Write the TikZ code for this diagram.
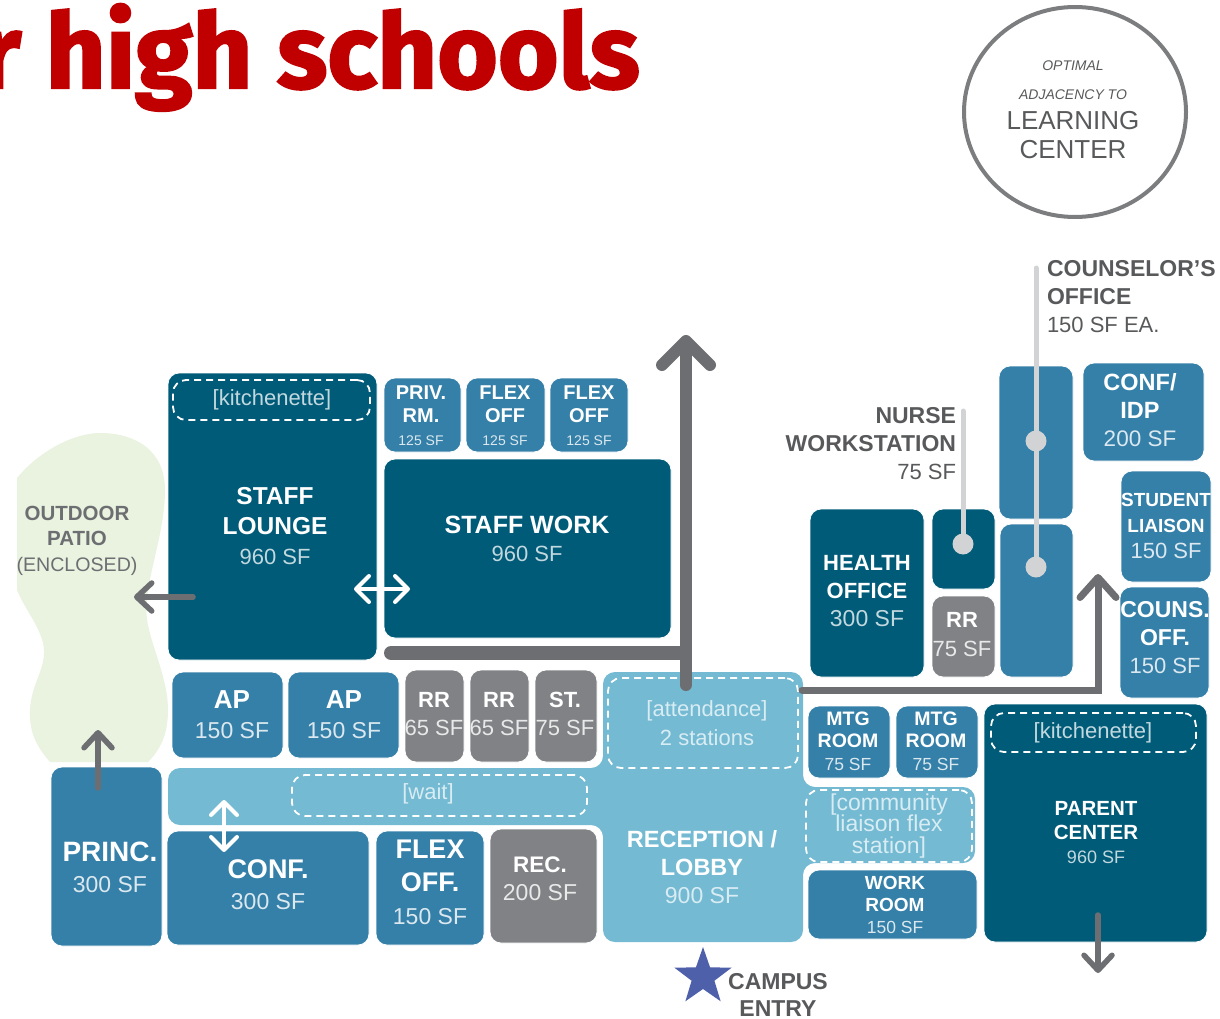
\documentclass[tikz,border=0pt]{standalone}
\usepackage{fontspec}
\setmainfont{Liberation Sans}
\newfontfamily\titlefont[BoldFeatures={FakeBold=2}]{Fira Sans}
\usetikzlibrary{arrows.meta,shapes.geometric}
\definecolor{bgdark}{HTML}{005B78}
\definecolor{bgmid}{HTML}{3580A8}
\definecolor{bglight}{HTML}{74BAD2}
\definecolor{bggray}{HTML}{808285}
\definecolor{arrowgray}{HTML}{6D6E71}
\definecolor{callout}{HTML}{D1D3D4}
\definecolor{patio}{HTML}{E9F3E0}
\definecolor{titlered}{HTML}{C00000}
\definecolor{darktext}{HTML}{58595B}
\definecolor{starblue}{HTML}{4F60AB}
\colorlet{tsub}{white}
\tikzset{
  roombox/.style={draw=white,line width=0.8pt,rounded corners=11pt,inner sep=0pt,outer sep=0pt},
  dark/.style={fill=bgdark},
  mid/.style={fill=bgmid},
  grayroom/.style={fill=bggray},
  dashbox/.style={draw=white,line width=1.8pt,rounded corners=13pt,dash pattern=on 7pt off 5pt,inner sep=0pt,outer sep=0pt},
  lab/.style={align=center,inner sep=0pt,outer sep=0pt},
  ondark/.style={text=white,execute at begin node=\colorlet{tsub}{white!76!bgdark}},
  onmid/.style={text=white,execute at begin node=\colorlet{tsub}{white!82!bgmid}},
  ongray/.style={text=white,execute at begin node=\colorlet{tsub}{white!82!bggray}},
  onlight/.style={text=white,execute at begin node=\colorlet{tsub}{white!72!bglight}},
  outside/.style={text=darktext,execute at begin node=\colorlet{tsub}{darktext}},
  mainarrow/.style={draw=arrowgray,line cap=round,line join=miter},
  whitearrow/.style={draw=white,line width=4pt,line cap=round,{Straight Barb[round,length=13pt,width=26pt]}-{Straight Barb[round,length=13pt,width=26pt]}},
  grayarrow/.style={draw=arrowgray,line width=5.5pt,line cap=round,-{Straight Barb[round,length=15pt,width=28pt]}},
  calloutline/.style={draw=callout,line width=5pt,line cap=round},
  calloutdot/.style={circle,fill=callout,minimum size=21pt,inner sep=0pt,outer sep=0pt},
}
% name, x1, y1, x2, y2, style
\newcommand\room[6]{\node[roombox,#6,minimum width={#4-#2},minimum height={#5-#3}] (#1) at ({(#2+#4)/2},{(#3+#5)/2}) {};}
\newcommand\dashroom[5]{\node[dashbox,minimum width={#4-#2},minimum height={#5-#3}] (#1) at ({(#2+#4)/2},{(#3+#5)/2}) {};}
% name, x, y, style, bold size, leading, text
\newcommand\lbl[7]{\node[lab,#4,font=\fontsize{#5}{#6}\selectfont\bfseries] (#1) at (#2,#3) {#7};}
\newcommand\subt[2]{{\color{tsub}\mdseries\fontsize{#1}{#1}\selectfont #2}}
\begin{document}
\begin{tikzpicture}[x=1pt,y=-1pt]
\useasboundingbox (0,0) rectangle (1220,1019);
\begin{scope}
\clip (0,0) rectangle (1220,1019);
\node[inner sep=0pt,anchor=base east,text=titlered,font=\titlefont\bfseries\fontsize{104}{104}\selectfont] (title) at (640,88) {r high schools};
\end{scope}

% circle
\node[draw=arrowgray!90,line width=4pt,ellipse,minimum width=222pt,minimum height=210pt,inner sep=0pt] (badge) at (1075,112) {};
\node[lab,text=darktext,font=\itshape\fontsize{14}{14}\selectfont] (opt1) at (1073,66) {OPTIMAL};
\node[lab,text=darktext,font=\itshape\fontsize{14}{14}\selectfont] (opt2) at (1073,95) {ADJACENCY TO};
\node[lab,text=darktext,font=\fontsize{26}{29}\selectfont] (opt3) at (1073,135) {LEARNING\\CENTER};

% patio
\fill[patio] (17,478) .. controls (40,450) and (75,433) .. (100,433) .. controls (135,433) and (165,450) .. (165,490) .. controls (165,540) and (140,590) .. (148,625) .. controls (153,650) and (168,680) .. (168,710) .. controls (168,735) and (160,750) .. (148,762) -- (50,762) .. controls (35,745) and (29,730) .. (30,710) .. controls (31,685) and (45,670) .. (44,650) .. controls (43,630) and (25,610) .. (17,590) -- cycle;

% lobby and corridor
\fill[bglight,rounded corners=12pt] (168,768) -- (603,768) -- (603,672) -- (803,672) -- (803,787) -- (975,787) -- (975,863) -- (803,863) -- (803,942) -- (603,942) -- (603,825) -- (168,825) -- cycle;

% rooms
\room{lounge}{168}{373}{377}{660}{dark}
\room{priv}{384}{378}{461}{452}{mid}
\room{flexa}{466}{378}{545}{452}{mid}
\room{flexb}{550}{378}{628}{452}{mid}
\room{staffwork}{384}{459}{671}{638}{dark}
\room{apa}{172}{672}{283}{758}{mid}
\room{apb}{288}{672}{399}{758}{mid}
\room{rra}{405}{670}{464}{762}{grayroom}
\room{rrb}{470}{670}{529}{762}{grayroom}
\room{storage}{535}{670}{597}{762}{grayroom}
\room{princ}{51}{767}{162}{946}{mid}
\room{conf}{167}{831}{369}{945}{mid}
\room{flexoff}{376}{831}{484}{945}{mid}
\room{rec}{490}{829}{597}{943}{grayroom}
\room{mtga}{808}{706}{890}{778}{mid}
\room{mtgb}{896}{706}{978}{778}{mid}
\room{workroom}{808}{870}{977}{939}{mid}
\room{parent}{984}{704}{1207}{942}{dark}
\room{health}{810}{509}{924}{677}{dark}
\room{nurse}{932}{509}{995}{589}{dark}
\room{rrc}{932}{596}{995}{677}{grayroom}
\room{counsa}{999}{366}{1073}{519}{mid}
\room{counsb}{1000}{524}{1073}{677}{mid}
\room{confidp}{1083}{363}{1204}{461}{mid}
\room{student}{1121}{471}{1211}{582}{mid}
\room{counsoff}{1120}{587}{1209}{698}{mid}

% dashed zones
\dashroom{kita}{173}{380}{370}{420}
\dashroom{attend}{608}{678}{798}{768}
\dashroom{waitzone}{292}{775}{587}{816}
\dashroom{commzone}{806}{790}{972}{862}
\dashroom{kitb}{991}{713}{1196}{752}

% coordinates for connectors
\coordinate (barstart) at (391,653);
\coordinate (barjoin) at (680,653);
\coordinate (mainfoot) at (686,685);
\coordinate (maintip) at (686,335);
\coordinate (rightstart) at (802,690);
\coordinate (rightcorner) at (1098,690);
\coordinate (righttip) at (1098,574);
\coordinate (patiotail) at (193,597);
\coordinate (patiotip) at (134,597);
\coordinate (princtail) at (98,788);
\coordinate (princtip) at (98,730);
\coordinate (parenttail) at (1098,915);
\coordinate (parenttip) at (1098,973);
\coordinate (hleft) at (354,589);
\coordinate (hright) at (410,589);
\coordinate (vtop) at (224,800);
\coordinate (vbot) at (224,852);
\coordinate (nursetop) at (963,411);
\coordinate (counstop) at (1036,268);

% gray circulation arrows
\draw[mainarrow,line width=14pt] (barstart) -- (barjoin);
\draw[mainarrow,line width=12pt,-{Straight Barb[round,length=24pt,width=48pt]}] (mainfoot) -- (maintip);
\draw[mainarrow,line width=7pt,-{Straight Barb[round,length=20pt,width=36pt]}] (rightstart) -- (rightcorner) -- (righttip);
\draw[grayarrow] (patiotail) -- (patiotip);
\draw[grayarrow] (princtail) -- (princtip);
\draw[grayarrow] (parenttail) -- (parenttip);
\draw[whitearrow] (hleft) -- (hright);
\draw[whitearrow] (vtop) -- (vbot);

% callouts
\node[calloutdot] (nursedot) at (963,544) {};
\node[calloutdot] (counsdota) at (1036,441) {};
\node[calloutdot] (counsdotb) at (1036,567) {};
\draw[calloutline] (nursetop) -- (nursedot);
\draw[calloutline] (counstop) -- (counsdota) -- (counsdotb);

% star
\node[star,star points=5,star point ratio=2.5,fill=starblue,minimum size=60pt,inner sep=0pt] (star) at (703,977) {};

% labels
\lbl{tkita}{272}{400}{ondark}{22}{26}{\subt{22}{[kitchenette]}}
\lbl{tlounge}{275}{526}{ondark}{24.5}{30}{STAFF\\LOUNGE\\\subt{22}{960 SF}}
\lbl{tpriv}{421}{416}{onmid}{20}{23}{PRIV.\\RM.\\\subt{14}{125 SF}}
\lbl{tflexa}{505}{416}{onmid}{20}{23}{FLEX\\OFF\\\subt{14}{125 SF}}
\lbl{tflexb}{589}{416}{onmid}{20}{23}{FLEX\\OFF\\\subt{14}{125 SF}}
\lbl{tstaffwork}{527}{539}{ondark}{25}{28}{STAFF WORK\\\subt{22}{960 SF}}
\lbl{tapa}{232}{715}{onmid}{26}{30}{AP\\\subt{23}{150 SF}}
\lbl{tapb}{344}{715}{onmid}{26}{30}{AP\\\subt{23}{150 SF}}
\lbl{trra}{434}{714}{ongray}{22}{28}{RR\\\subt{22}{65 SF}}
\lbl{trrb}{499}{714}{ongray}{22}{28}{RR\\\subt{22}{65 SF}}
\lbl{tst}{565}{714}{ongray}{22}{28}{ST.\\\subt{22}{75 SF}}
\lbl{tattend}{707}{723}{onlight}{22}{29}{\subt{22}{[attendance]}\\\subt{22}{2 stations}}
\lbl{twait}{428}{794}{onlight}{22}{24}{\subt{22}{[wait]}}
\lbl{tprinc}{110}{867}{onmid}{28}{31}{PRINC.\\\subt{23}{300 SF}}
\lbl{tconf}{268}{885}{onmid}{27}{31}{CONF.\\\subt{23}{300 SF}}
\lbl{tflexoff}{430}{882}{onmid}{27}{33}{FLEX\\OFF.\\\subt{23}{150 SF}}
\lbl{trec}{540}{879}{ongray}{22.5}{28}{REC.\\\subt{23}{200 SF}}
\lbl{trecep}{702}{867}{onlight}{23.5}{28}{RECEPTION /\\LOBBY\\\subt{23}{900 SF}}
\lbl{tmtga}{848}{741}{onmid}{19.5}{22.5}{MTG\\ROOM\\\subt{17.5}{75 SF}}
\lbl{tmtgb}{936}{741}{onmid}{19.5}{22.5}{MTG\\ROOM\\\subt{17.5}{75 SF}}
\lbl{tcomm}{889}{826}{onlight}{23}{21.5}{\subt{23}{[community}\\\subt{23}{liaison flex}\\\subt{23}{station]}}
\lbl{twork}{895}{905}{onmid}{19}{22}{WORK\\ROOM\\\subt{17.5}{150 SF}}
\lbl{tkitb}{1093}{733}{ondark}{22}{26}{\subt{22}{[kitchenette]}}
\lbl{tparent}{1096}{833}{ondark}{20.5}{24}{PARENT\\CENTER\\\subt{18}{960 SF}}
\lbl{thealth}{867}{591}{ondark}{22}{28}{HEALTH\\OFFICE\\\subt{23}{300 SF}}
\lbl{trrc}{962}{635}{ongray}{22}{29}{RR\\\subt{22}{75 SF}}
\lbl{tconfidp}{1140}{410}{onmid}{23.5}{28}{CONF/\\IDP\\\subt{22.5}{200 SF}}
\lbl{tstudent}{1166}{526}{onmid}{19}{26}{STUDENT\\LIAISON\\\subt{22}{150 SF}}
\lbl{tcounsoff}{1165}{638}{onmid}{23}{28}{COUNS.\\OFF.\\\subt{22}{150 SF}}
\node[lab,text=arrowgray,font=\fontsize{20.5}{25.5}\selectfont\bfseries] (tpatio) at (77,540.5) {OUTDOOR\\PATIO\\{\mdseries\fontsize{19.6}{19.6}\selectfont (ENCLOSED)}};
\node[lab,align=left,anchor=west,outside,font=\fontsize{23}{28}\selectfont\bfseries] (tcouns) at (1047,297) {COUNSELOR’S\\OFFICE\\\subt{22}{150 SF EA.}};
\node[lab,align=right,anchor=east,outside,font=\fontsize{23}{28}\selectfont\bfseries] (tnurse) at (956,444) {NURSE\\WORKSTATION\\\subt{22}{75 SF}};
\lbl{tcampus}{778}{995}{outside}{23}{27}{CAMPUS\\ENTRY}
\end{tikzpicture}
\end{document}
